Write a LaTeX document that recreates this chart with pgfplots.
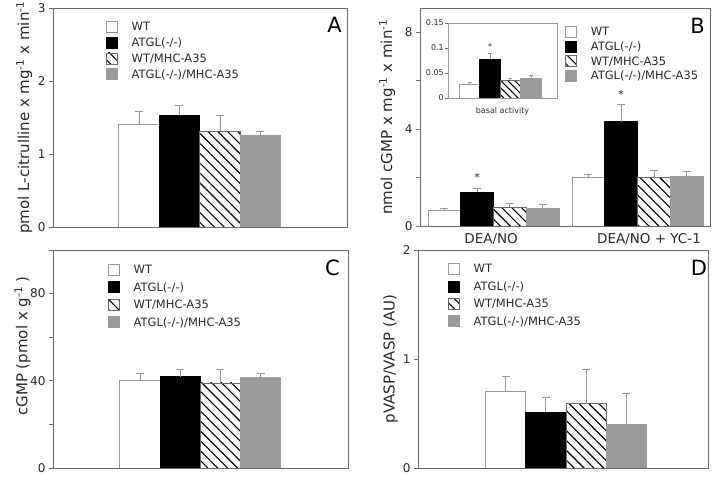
\documentclass[border=0pt]{standalone}
\usepackage{fontspec}
\setmainfont{DejaVu Sans}
\usepackage{pgfplots}
\pgfplotsset{compat=1.18}
\usetikzlibrary{patterns.meta}

\definecolor{axgray}{RGB}{105,105,105}
\definecolor{bargray}{RGB}{155,155,155}
\definecolor{errgray}{RGB}{150,150,150}
\definecolor{edgegray}{RGB}{150,150,150}
\definecolor{txt}{RGB}{40,40,40}

\tikzset{
  letter/.style={anchor=north east, inner sep=0pt, font=\fontsize{21}{21}\selectfont, text=black},
  star/.style={anchor=north, inner sep=0pt, font=\fontsize{11}{11}\selectfont, text=txt},
}

\pgfplotsset{
  panel/.style={
    scale only axis, anchor=south west, ymin=0,
    axis line style={axgray, line width=0.8pt},
    tick style={axgray, line width=0.8pt},
    tick align=outside, ytick pos=left, xtick pos=bottom,
    major tick length=4pt, minor tick length=4pt,
    xtick=\empty,
    ticklabel style={font=\fontsize{12}{14}\selectfont, text=txt},
    /pgf/number format/assume math mode=true,
    ylabel style={font=\fontsize{15}{16}\selectfont, text=txt, anchor=south, inner sep=0pt},
    legend style={draw=none, fill=none, inner sep=0pt, outer sep=0pt, anchor=north west,
      font=\fontsize{11.5}{12}\selectfont,
      nodes={inner sep=0pt, text height=9.5pt, text depth=1.5pt, text=txt}},
    legend cell align=left,
    legend image code/.code={\draw[##1] (0pt,-5.5pt) rectangle (11pt,5.5pt); \path (25pt,0pt);},
  },
  barbase/.style={ybar, bar shift=0pt, bar width=1,
    error bars/y dir=plus, error bars/y explicit,
    error bars/error bar style={errgray, line width=0.8pt},
    error bars/error mark options={rotate=90, mark size=4pt, errgray, line width=0.8pt}},
  wt/.style={barbase, fill=white, draw=edgegray, line width=0.8pt},
  ko/.style={barbase, fill=black, draw=black, line width=0.8pt},
  hatch/.style={barbase, pattern={Lines[angle=-45,distance=#1,line width=1.1pt]},
    pattern color=black, draw=axgray, line width=0.6pt},
  hatch/.default=7pt,
  kotg/.style={barbase, fill=bargray, draw=bargray, line width=0.8pt},
  smallcap/.style={error bars/error mark options={rotate=90, mark size=2pt, errgray, line width=0.6pt}},
}

\begin{document}
\begin{tikzpicture}[x=1pt,y=1pt]
\useasboundingbox (0,0) rectangle (714,478);

% ---- A
\begin{axis}[panel, at={(53pt,251pt)}, width=294pt, height=219pt,
  xmin=-1.123, xmax=6.136, ymax=3, ytick={0,1,2,3},
  ylabel={pmol L-citrulline x mg\textsuperscript{-1} x min\textsuperscript{-1}},
  ylabel style={at={(axis description cs:-0.070,0.5)}},
  legend style={at={(rel axis cs:0.180,0.941)}, row sep=4pt}]
\addplot[wt] coordinates {(1,1.41) +- (0,0.17)};
\addlegendentry{WT}
\addplot[ko] coordinates {(2,1.53) +- (0,0.14)};
\addlegendentry{ATGL(-/-)}
\addplot[hatch] coordinates {(3,1.31) +- (0,0.22)};
\addlegendentry{WT/MHC-A35}
\addplot[kotg] coordinates {(4,1.26) +- (0,0.05)};
\addlegendentry{ATGL(-/-)/MHC-A35}
\node[letter] at (rel axis cs:0.983,0.959) {A};
\end{axis}

% ---- B
\begin{axis}[panel, at={(420pt,252pt)}, width=290pt, height=218pt,
  xmin=0.258, xmax=9.113, ymax=9, ytick={0,4,8}, minor ytick={2,6},
  xtick={2.43,7.25}, xticklabels={DEA/NO, DEA/NO + YC-1},
  xtick style={draw=none},
  xticklabel style={font=\fontsize{13.5}{14}\selectfont, inner sep=0pt, yshift=-3pt},
  ylabel={nmol cGMP x mg\textsuperscript{-1} x min\textsuperscript{-1}},
  ylabel style={at={(axis description cs:-0.085,0.5)}},
  legend style={at={(rel axis cs:0.5,0.917)}, row sep=2.8pt}]
\addplot[wt] coordinates {(1,0.66) +- (0,0.08) (5.4,2.00) +- (0,0.14)};
\addlegendentry{WT}
\addplot[ko] coordinates {(2,1.40) +- (0,0.17) (6.4,4.30) +- (0,0.73)};
\addlegendentry{ATGL(-/-)}
\addplot[hatch] coordinates {(3,0.78) +- (0,0.16) (7.4,2.00) +- (0,0.30)};
\addlegendentry{WT/MHC-A35}
\addplot[kotg] coordinates {(4,0.74) +- (0,0.16) (8.4,2.06) +- (0,0.21)};
\addlegendentry{ATGL(-/-)/MHC-A35}
\node[star] at (axis cs:2,2.19) {*};
\node[star] at (axis cs:6.4,5.61) {*};
\node[letter] at (rel axis cs:0.983,0.954) {B};
\end{axis}

% ---- B inset
\begin{axis}[scale only axis, anchor=south west, at={(448pt,380pt)}, width=109pt, height=75pt,
  xmin=-0.05, xmax=5.27, ymin=0, ymax=0.15,
  ytick={0,0.05,0.1,0.15}, yticklabels={0,0.05,0.1,0.15}, xtick=\empty,
  axis background/.style={fill=white},
  axis line style={edgegray, line width=0.6pt},
  tick style={axgray, line width=0.6pt}, tick align=outside, ytick pos=left,
  major tick length=3pt,
  yticklabel style={font=\fontsize{8}{9}\selectfont, text=txt, inner sep=1pt},
  xlabel={basal activity},
  xlabel style={at={(axis description cs:0.5,-0.12)}, anchor=north, inner sep=0pt,
    font=\fontsize{8}{9}\selectfont, text=txt}]
\addplot[wt, line width=0.6pt, smallcap] coordinates {(1,0.027) +- (0,0.004)};
\addplot[ko, smallcap] coordinates {(2,0.078) +- (0,0.011)};
\addplot[hatch=5pt, smallcap] coordinates {(3,0.035) +- (0,0.005)};
\addplot[kotg, smallcap] coordinates {(4,0.040) +- (0,0.005)};
\node[star, font=\fontsize{8}{8}\selectfont] at (axis cs:2,0.109) {*};
\end{axis}

% ---- C
\begin{axis}[panel, at={(53pt,10pt)}, width=295pt, height=218pt,
  xmin=-1.164, xmax=6.174, ymax=100, ytick={0,40,80}, minor ytick={20,60,100},
  ylabel={cGMP (pmol x g\textsuperscript{-1} )},
  ylabel style={at={(axis description cs:-0.076,0.56)}},
  legend style={at={(rel axis cs:0.186,0.936)}, row sep=5.7pt}]
\addplot[wt] coordinates {(1,40.0) +- (0,3.2)};
\addlegendentry{WT}
\addplot[ko] coordinates {(2,41.8) +- (0,3.2)};
\addlegendentry{ATGL(-/-)}
\addplot[hatch] coordinates {(3,39.0) +- (0,6.0)};
\addlegendentry{WT/MHC-A35}
\addplot[kotg] coordinates {(4,41.4) +- (0,1.8)};
\addlegendentry{ATGL(-/-)/MHC-A35}
\node[letter] at (rel axis cs:0.973,0.954) {C};
\end{axis}

% ---- D
\begin{axis}[panel, at={(418pt,10pt)}, width=290pt, height=218pt,
  xmin=-1.174, xmax=6.03, ymax=2, ytick={0,1,2},
  ylabel={pVASP/VASP (AU)},
  ylabel style={at={(axis description cs:-0.069,0.5)}},
  legend style={at={(rel axis cs:0.103,0.940)}, row sep=5.7pt}]
\addplot[wt] coordinates {(1,0.70) +- (0,0.14)};
\addlegendentry{WT}
\addplot[ko] coordinates {(2,0.51) +- (0,0.14)};
\addlegendentry{ATGL(-/-)}
\addplot[hatch] coordinates {(3,0.59) +- (0,0.31)};
\addlegendentry{WT/MHC-A35}
\addplot[kotg] coordinates {(4,0.40) +- (0,0.28)};
\addlegendentry{ATGL(-/-)/MHC-A35}
\node[letter] at (rel axis cs:0.997,0.954) {D};
\end{axis}
\end{tikzpicture}
\end{document}
